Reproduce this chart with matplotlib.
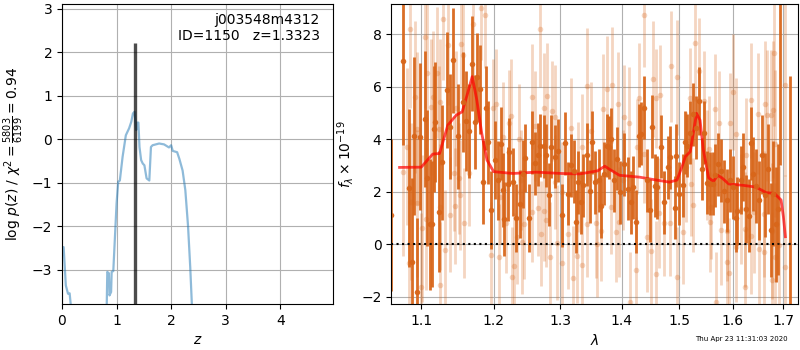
import numpy as np
import matplotlib
matplotlib.use("Agg")
import matplotlib.pyplot as plt
from matplotlib.ticker import FixedLocator, FixedFormatter, NullLocator

# p(z) curve
z_grid = [0.0, 0.02, 0.03, 0.07, 0.11, 0.14, 0.16, 0.18, 0.80, 0.82, 0.83, 0.86, 0.87, 0.90,
          0.91, 0.94, 1.00, 1.03, 1.06, 1.11, 1.17, 1.23, 1.27, 1.30, 1.33, 1.36, 1.38,
          1.40, 1.42, 1.45, 1.48, 1.51, 1.55, 1.60, 1.63, 1.66, 1.78, 1.87, 1.96, 2.00,
          2.03, 2.11, 2.15, 2.21, 2.26, 2.31, 2.35, 2.38, 2.42]
log_pz = [-2.48, -2.48, -2.48, -3.36, -3.55, -3.54, -3.8, -6.0, -6.0, -3.8, -3.05, -3.08,
          -3.59, -3.51, -3.05, -3.03, -1.48, -0.98, -0.95, -0.41, 0.09, 0.25, 0.40, 0.59,
          0.63, 0.21, 0.38, 0.38, -0.18, -0.48, -0.56, -0.60, -0.90, -0.95, -0.18, -0.14,
          -0.10, -0.12, -0.19, -0.14, -0.27, -0.30, -0.45, -0.72, -1.17, -2.0, -2.94, -3.8,
          -6.0]
z_best = 1.3323
pz_peak = 2.22

# model spectrum
model_wave = [1.0717, 1.1000, 1.1154, 1.1245, 1.1357, 1.1472, 1.1555, 1.1630, 1.1695,
              1.1760, 1.1830, 1.1905, 1.2000, 1.2280, 1.2630, 1.3015, 1.3304, 1.3600,
              1.3715, 1.3800, 1.3960, 1.4300, 1.4590, 1.4824, 1.4960, 1.5050, 1.5110,
              1.5200, 1.5315, 1.5380, 1.5440, 1.5540, 1.5630, 1.5710, 1.5790, 1.5920,
              1.6189, 1.6451, 1.6650, 1.6817, 1.6953, 1.7000, 1.7041]
model_flux = [2.92, 2.93, 3.43, 3.45, 4.53, 4.91, 5.04, 5.74, 6.38, 5.49, 4.22, 3.2, 2.76,
              2.69, 2.74, 2.69, 2.67, 2.79, 2.97, 2.84, 2.62, 2.55, 2.44, 2.36, 2.44, 2.95,
              3.33, 3.52, 4.98, 4.72, 3.6, 2.52, 2.39, 2.62, 2.52, 2.29, 2.24, 2.17, 1.96,
              1.93, 1.68, 1.05, 0.28]

# first grism set (dark points)
dark_wave = [1.0612, 1.0759, 1.0837, 1.0882, 1.0903, 1.0947, 1.0982, 1.1048, 1.1080, 1.1114,
             1.1146, 1.1167, 1.1190, 1.1235, 1.1281, 1.1349, 1.1385, 1.1426, 1.1500, 1.1564,
             1.1611, 1.1657, 1.1690, 1.1737, 1.1760, 1.1808, 1.1845, 1.1893, 1.1916, 1.1965,
             1.2013, 1.2060, 1.2110, 1.2133, 1.2158, 1.2206, 1.2231, 1.2280, 1.2330, 1.2394,
             1.2429, 1.2465, 1.2514, 1.2574, 1.2615, 1.2655, 1.2692, 1.2743, 1.2777, 1.2820,
             1.2861, 1.2912, 1.2963, 1.3025, 1.3068, 1.3119, 1.3173, 1.3210, 1.3247, 1.3289,
             1.3331, 1.3369, 1.3422, 1.3476, 1.3503, 1.3558, 1.3624, 1.3650, 1.3706, 1.3749,
             1.3789, 1.3815, 1.3872, 1.3915, 1.3972, 1.4039, 1.4107, 1.4151, 1.4197, 1.4236,
             1.4294, 1.4334, 1.4380, 1.4426, 1.4484, 1.4524, 1.4565, 1.4612, 1.4670, 1.4731,
             1.4802, 1.4842, 1.4919, 1.4949, 1.4999, 1.5059, 1.5100, 1.5144, 1.5191, 1.5241,
             1.5301, 1.5356, 1.5407, 1.5449, 1.5500, 1.5562, 1.5612, 1.5656, 1.5719, 1.5763,
             1.5826, 1.5877, 1.5941, 1.6006, 1.6050, 1.6084, 1.6147, 1.6192, 1.6244, 1.6309,
             1.6343, 1.6387, 1.6441, 1.6506, 1.6560, 1.6625, 1.6685, 1.6740, 1.6785, 1.6840,
             1.6895, 1.6941, 1.7146]
dark_flux = [1.1, 6.97, 2.13, -0.67, 4.11, -1.82, 4.09, 4.76, 2.51, 0.76,
             0.76, 4.40, 4.65, 1.23, 3.11, 5.87, 4.47, 7.00, 4.10, 5.42,
             4.70, 4.30, 6.88, 4.66, 6.35, 5.89, 2.37, 5.17, 3.87, 1.30,
             3.20, 2.43, 3.83, 2.06, 0.95, 2.29, 3.52, 2.37, 1.00, 1.54,
             2.67, 3.27, 0.98, 3.88, 3.08, 3.41, 3.75, 3.73, 3.38, 1.87,
             3.70, 3.32, 3.55, 1.10, 3.84, 1.92, 3.00, 2.78, 0.85, 2.36,
             1.60, 2.24, 3.40, 2.02, 3.87, 2.36, 2.43, 1.44, 2.67, 3.75,
             3.68, 4.00, 2.44, 3.25, 1.98, 3.05, 2.10, 1.60, 2.16, 0.85,
             4.13, 4.20, 5.20, 2.43, 1.29, 4.47, 2.22, 2.16, 3.70, 1.60,
             2.92, 3.30, 1.39, 3.37, 1.92, 2.24, 3.87, 3.75, 4.25, 4.95,
             4.43, 5.45, 2.86, 4.25, 2.33, 2.30, 2.30, 2.62, 3.05, 2.79,
             2.02, 1.66, 2.43, 2.16, 1.01, 1.26, 2.43, 2.95, 1.33, 1.08,
             3.84, 2.67, 2.22, 1.67, 3.41, 1.87, 2.86, 0.53, 1.92, 0.75,
             1.33, 11.0, -2.6]
dark_err = [2.9, 3.2, 3.0, 3.2, 3.0, 2.8, 2.8, 2.6, 2.6, 2.5,
            2.4, 2.4, 2.3, 2.3, 2.2, 2.2, 2.0, 2.0, 2.0, 1.9,
            1.9, 1.8, 1.8, 1.8, 1.7, 1.7, 1.6, 1.6, 1.6, 1.5,
            1.5, 1.5, 1.4, 1.4, 1.4, 1.4, 1.3, 1.3, 1.3, 1.3,
            1.3, 1.3, 1.3, 1.2, 1.2, 1.2, 1.2, 1.2, 1.2, 1.2,
            1.2, 1.2, 1.2, 1.2, 1.2, 1.2, 1.2, 1.2, 1.2, 1.2,
            1.2, 1.2, 1.2, 1.2, 1.2, 1.2, 1.2, 1.2, 1.2, 1.2,
            1.2, 1.2, 1.2, 1.2, 1.2, 1.2, 1.2, 1.2, 1.2, 1.2,
            1.2, 1.2, 1.2, 1.2, 1.2, 1.2, 1.2, 1.2, 1.2, 1.2,
            1.2, 1.2, 1.2, 1.2, 1.2, 1.2, 1.2, 1.2, 1.2, 1.2,
            1.2, 1.3, 1.2, 1.2, 1.2, 1.2, 1.2, 1.2, 1.2, 1.2,
            1.2, 1.2, 1.2, 1.2, 1.3, 1.3, 1.3, 1.3, 1.3, 1.4,
            1.4, 1.4, 1.4, 1.5, 1.5, 1.6, 1.7, 1.8, 2.0, 2.2,
            2.5, 8.0, 9.0]

# second grism set (light points)
light_wave = [1.0759, 1.0816, 1.0837, 1.0859, 1.0870, 1.0916, 1.0938, 1.0947, 1.0991, 1.1004,
              1.1048, 1.1066, 1.1070, 1.1124, 1.1159, 1.1213, 1.1235, 1.1245, 1.1249, 1.1255,
              1.1290, 1.1325, 1.1357, 1.1392, 1.1440, 1.1462, 1.1472, 1.1508, 1.1530,
              1.1539, 1.1560, 1.1581, 1.1657, 1.1703, 1.1822, 1.1870, 1.1965, 1.1984, 1.2039,
              1.2075, 1.2094, 1.2131, 1.2186, 1.2221, 1.2255, 1.2262, 1.2305, 1.2340, 1.2372,
              1.2403, 1.2420, 1.2451,
              1.2563, 1.2570, 1.2615, 1.2655, 1.2692, 1.2700, 1.2743, 1.2754, 1.2777, 1.2795,
              1.2835, 1.2870, 1.2912, 1.2922, 1.2947, 1.3025, 1.3030, 1.3129, 1.3173, 1.3197,
              1.3258, 1.3289, 1.3340, 1.3349, 1.3422, 1.3430, 1.3490, 1.3575, 1.3585,
              1.3650, 1.3692, 1.3759, 1.3815, 1.3843, 1.3902, 1.3943, 1.3950, 1.4027, 1.4039,
              1.4124, 1.4130, 1.4236, 1.4265, 1.4294, 1.4380, 1.4385, 1.4426, 1.4494, 1.4537,
              1.4582, 1.4590, 1.4645, 1.4658, 1.4731,
              1.4830, 1.4857, 1.4957, 1.4967, 1.5059, 1.5131, 1.5191, 1.5221, 1.5246, 1.5281,
              1.5356, 1.5449, 1.5500, 1.5537, 1.5562, 1.5585, 1.5656, 1.5685, 1.5742, 1.5763,
              1.5877, 1.5885, 1.5916, 1.5941, 1.6006,
              1.6050, 1.6055, 1.6147, 1.6230, 1.6235, 1.6244, 1.6343, 1.6350, 1.6408, 1.6480,
              1.6506, 1.6605, 1.6610, 1.6625, 1.6670, 1.6740, 1.6761, 1.6773, 1.6785, 1.6818,
              1.6823, 1.6839, 1.6906, 1.7030, 1.7041]
light_flux = [2.75, 3.71, -0.74, 8.18, 1.62, 5.61, 4.40, 1.56, -1.62, 0.60,
              7.89, 0.95, 6.53, 5.23, 5.61, 6.53, 4.37, -1.55, 5.42, 1.42,
              8.57, -0.24, 7.58, 1.12, 2.69, 1.45, 5.17, 2.50, 1.87,
              7.64, 7.20, 0.79, 2.69, 8.37, 9.00, 8.72, -0.41, 5.17, 5.33,
              -0.48, 1.81, 4.09, 0.79, 4.62, 4.87, -1.24, -0.83, 0.27, 3.99,
              2.43, 0.08, 0.76,
              5.61, 1.23, 4.51, 1.36, 8.18, 0.40, 1.27, 5.18, 0.91, 5.66,
              -0.50, 5.08, 4.84, 2.37, 0.05, 1.99, -0.73, 0.40, 4.42, -1.30,
              -0.46, 2.56, 3.71, -0.80, 6.03, 0.76, 4.29, 0.79, -0.01,
              0.51, 5.14, 5.91, 1.42, 6.06, 0.46, 5.32, 0.84, 2.44, 4.84,
              4.63, -2.20, -0.97, 3.71, 5.58, 8.73, 3.45, 0.27, -0.28, 6.29,
              5.55, -1.13, 1.17, 5.68, 0.80,
              0.79, 6.77, 6.35, -1.24, 0.46, 2.95, 5.58, 2.30, 1.49, 7.66,
              6.60, 5.45, 3.00, 3.64, 0.85, 1.42, 5.14, -2.21, 4.60, 0.53,
              0.50, -0.67, -1.12, 4.60, 5.80,
              4.21, -0.10, 1.33, 0.56, -1.64, 3.38, 5.48, 0.31, 1.21, 4.97,
              -0.17, 1.14, -0.30, 5.32, 4.91, 4.91, -1.38, 0.50, 5.12, 7.29,
              3.83, -0.49, -0.04, 6.08, -0.87]
light_err = [3.2, 3.0, 3.0, 3.0, 3.0, 2.9, 2.9, 2.8, 2.8, 2.8,
             2.7, 2.7, 2.6, 2.6, 2.5, 2.5, 2.4, 2.4, 2.4, 2.4,
             2.3, 2.3, 2.3, 2.2, 2.2, 2.2, 2.2, 2.1, 2.1,
             2.1, 2.1, 2.1, 2.0, 2.0, 2.0, 2.0, 2.0, 1.9, 2.1,
             2.0, 1.8, 2.1, 1.9, 2.0, 2.2, 1.9, 2.0, 1.8, 2.1,
             1.9, 2.0, 2.1,
             2.0, 1.9, 2.1, 1.8, 2.2, 2.0, 1.9, 2.1, 1.8, 2.0,
             2.1, 1.9, 2.0, 1.8, 2.2, 1.9, 2.0, 2.1, 1.9, 2.0,
             1.8, 2.1, 2.0, 1.9, 2.2, 2.0, 1.9, 2.1, 2.0,
             1.9, 2.1, 2.0, 1.8, 2.2, 1.9, 2.0, 2.1, 1.9, 2.0,
             2.1, 1.9, 2.0, 1.8, 2.1, 2.0, 1.9, 2.1, 2.0, 2.2,
             1.9, 2.0, 2.1, 1.9, 2.0,
             2.0, 2.1, 2.2, 1.9, 2.0, 2.1, 1.9, 2.0, 1.8, 2.2,
             2.0, 1.9, 2.1, 2.0, 1.9, 2.0, 2.1, 1.9, 2.0, 2.1,
             1.9, 2.0, 2.1, 1.9, 2.2,
             2.1, 2.1, 2.1, 2.2, 2.2, 2.2, 2.2, 2.2, 2.3, 2.3,
             2.3, 2.4, 2.4, 2.4, 2.5, 2.5, 2.6, 2.6, 2.6, 2.8,
             2.8, 2.8, 3.0, 3.5, 3.5]

obj_name = "j003548m4312"
obj_id = 1150
chi2_num, chi2_den = 5803, 6199
wave_ticks = [1.1, 1.2, 1.3, 1.4, 1.5, 1.6, 1.7]
stamp = "Thu Apr 23 11:31:03 2020"

grism_color = "#d8661a"

fig = plt.figure(figsize=(8, 3.5), dpi=100)
ax1 = fig.add_axes([0.0775, 0.131, 0.339, 0.857])
ax2 = fig.add_axes([0.489, 0.131, 0.509, 0.857])

# left: p(z)
ax1.plot(z_grid, log_pz, color="C0", alpha=0.5, lw=1.6)
ax1.vlines(z_best, -3.79, pz_peak, color="k", alpha=0.7, lw=2.4)
ax1.set_xlim(0, 4.97)
ax1.set_ylim(-3.79, 3.1)
ax1.set_xticks([0, 1, 2, 3, 4])
ax1.set_yticks([-3, -2, -1, 0, 1, 2, 3])
ax1.grid(True)
ax1.set_xlabel(r"$z$")
ax1.set_ylabel(r"$\log\,p(z)$" + " / " +
               r"$\chi^2=\frac{%d}{%d}=%.2f$" % (chi2_num, chi2_den, chi2_num / chi2_den))
ax1.text(0.95, 0.97, "%s\nID=%d   z=%.4f" % (obj_name, obj_id, z_best),
         transform=ax1.transAxes, ha="right", va="top", fontsize=10)

# right: spectrum
ax2.errorbar(light_wave, light_flux, yerr=light_err, color=grism_color, alpha=0.27,
             marker="o", ms=4, lw=2, ls="none", mec="none")
ax2.errorbar(dark_wave, dark_flux, yerr=dark_err, color=grism_color, alpha=0.95,
             marker="o", ms=4, lw=2, ls="none", mec="none")
ax2.plot(model_wave, model_flux, color="r", alpha=0.7, lw=2)
ax2.axhline(0, color="k", ls=":", lw=1.5)
ax2.set_xscale("log")
ax2.set_xlim(1.061, 1.731)
ax2.set_ylim(-2.29, 9.14)
ax2.xaxis.set_major_locator(FixedLocator(wave_ticks))
ax2.xaxis.set_major_formatter(FixedFormatter(["%.1f" % w for w in wave_ticks]))
ax2.xaxis.set_minor_locator(NullLocator())
ax2.set_yticks([-2, 0, 2, 4, 6, 8])
ax2.grid(True)
ax2.set_xlabel(r"$\lambda$")
ax2.set_ylabel(r"$f_\lambda\times10^{-19}$")

fig.text(0.984, 0.022, stamp, ha="right", va="bottom", fontsize=5)

fig.savefig("out.png", dpi=100)
